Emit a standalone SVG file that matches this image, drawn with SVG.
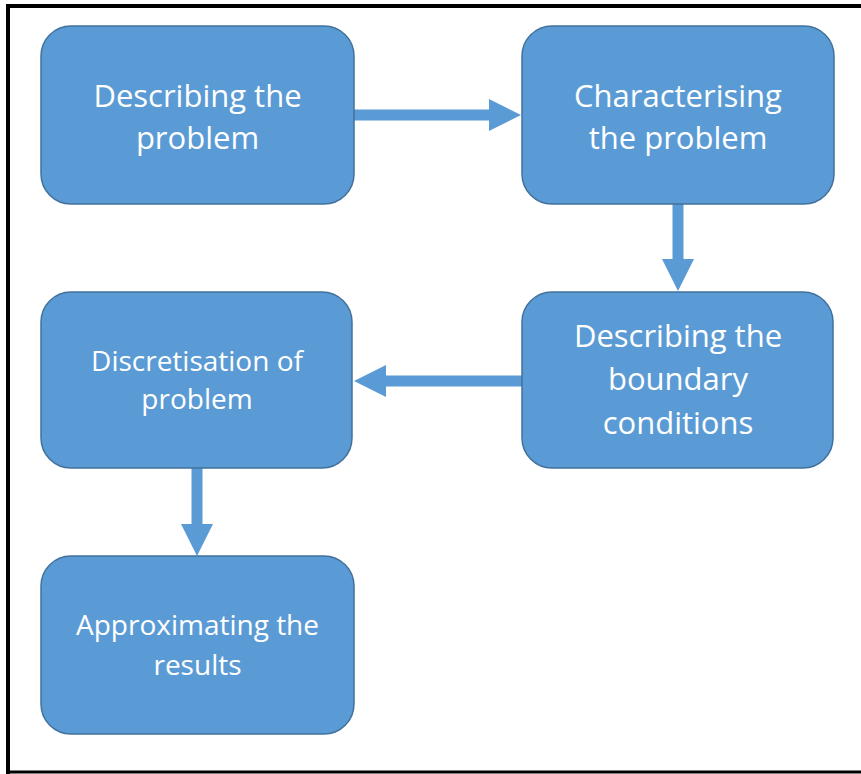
<svg xmlns="http://www.w3.org/2000/svg" width="861" height="774" viewBox="0 0 861 774">
  <style>
    .node rect { fill: #5B9BD5; stroke: #41719C; stroke-width: 1.5; }
    .node text { fill: #FFFFFF; font-family: "Open Sans", "Noto Sans", sans-serif; text-anchor: middle; }
    .big { font-size: 31px; }
    .small { font-size: 28px; }
    .conn path { fill: #5B9BD5; stroke: none; }
  </style>
  <rect x="0" y="0" width="861" height="774" fill="#FFFFFF"/>
  <g id="frame" fill="none" stroke="#000000">
    <path d="M861,6 H8 V774" stroke-width="4"/>
    <path d="M6,772 H861" stroke-width="3"/>
  </g>
  <g id="connectors" class="conn">
    <path d="M354,109.5 H489 V99 L521,115 L489,131 V120.5 H354 Z"/>
    <path d="M672.5,204 V259 H662 L678,291 L694,259 H683.5 V204 Z"/>
    <path d="M522,375.5 H386 V365 L354,381 L386,397 V386.5 H522 Z"/>
    <path d="M191.5,468 V524 H181 L197,556 L213,524 H202.5 V468 Z"/>
  </g>
  <g id="node-describing-problem" class="node">
    <rect x="41" y="26" width="313" height="178" rx="30" ry="30"/>
    <text class="big" x="197.5" y="107">Describing the</text>
    <text class="big" x="197.5" y="149">problem</text>
  </g>
  <g id="node-characterising" class="node">
    <rect x="522" y="26" width="312" height="178" rx="30" ry="30"/>
    <text class="big" x="678" y="107">Characterising</text>
    <text class="big" x="678" y="149">the problem</text>
  </g>
  <g id="node-boundary" class="node">
    <rect x="522" y="292" width="311" height="176" rx="30" ry="30"/>
    <text class="big" x="678" y="347">Describing the</text>
    <text class="big" x="678" y="390">boundary</text>
    <text class="big" x="678" y="434">conditions</text>
  </g>
  <g id="node-discretisation" class="node">
    <rect x="41" y="292" width="311" height="176" rx="30" ry="30"/>
    <text class="small" x="197" y="371">Discretisation of</text>
    <text class="small" x="197" y="409">problem</text>
  </g>
  <g id="node-approximating" class="node">
    <rect x="41" y="556" width="313" height="178" rx="30" ry="30"/>
    <text class="small" x="197.5" y="635">Approximating the</text>
    <text class="small" x="197.5" y="675">results</text>
  </g>
</svg>
